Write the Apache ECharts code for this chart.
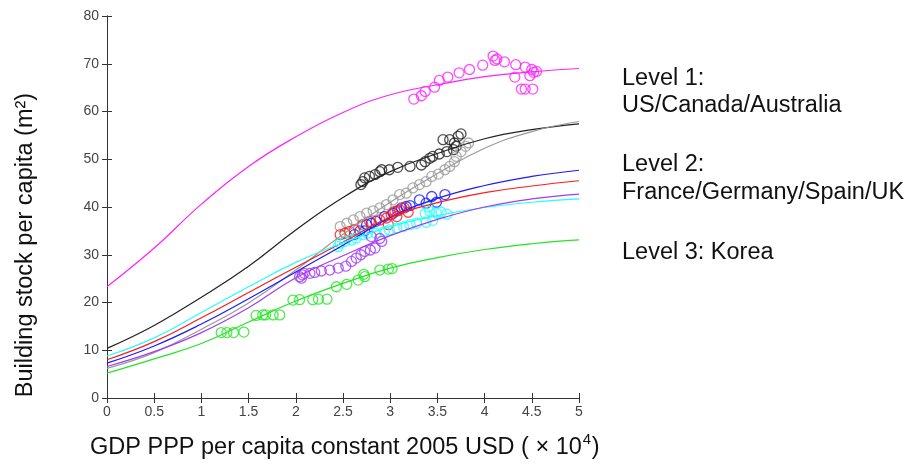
<!DOCTYPE html>
<html>
<head>
<meta charset="utf-8">
<script src="https://cdn.jsdelivr.net/npm/echarts@6/dist/echarts.min.js"></script>
<style>
html,body{margin:0;padding:0;background:#fff;}
#chart{width:907px;height:467px;}
</style>
</head>
<body>
<div id="chart"></div>
<script>
// ---- data ----
const curveX = [0, 0.5, 1, 1.5, 2, 2.5, 3, 3.5, 4, 4.5, 5];
const magentaCurve = [23.3, 31.4, 40.6, 48.5, 54.7, 59.8, 63.5, 65.6, 67.3, 68.3, 69.0];
const blackCurve   = [10.4, 15.2, 21.1, 27.6, 35.2, 42.0, 47.4, 51.2, 54.3, 56.2, 57.4];
const grayCurve    = [6.2, 9.5, 14.4, 19.9, 26.8, 34.3, 41.0, 47.0, 52.3, 55.8, 57.9];
const blueCurve    = [7.3, 10.9, 15.5, 20.8, 26.4, 32.0, 37.8, 41.8, 44.5, 46.4, 47.7];
const redCurve     = [8.0, 11.8, 16.8, 22.1, 27.4, 32.6, 37.9, 40.9, 43.0, 44.4, 45.5];
const cyanCurve    = [8.8, 12.6, 17.9, 23.3, 28.4, 32.5, 35.9, 38.2, 39.9, 41.0, 41.7];
const purpleCurve  = [6.6, 9.7, 13.7, 18.9, 25.2, 29.8, 34.0, 37.4, 40.0, 41.7, 42.7];
const greenCurve   = [5.2, 8.2, 11.4, 15.9, 20.3, 24.0, 27.2, 29.4, 31.1, 32.3, 33.1];

const magentaPts = [[3.25,62.6],[3.33,63.3],[3.37,64.2],[3.47,65.1],[3.52,66.5],[3.61,67.2],[3.73,68.1],[3.84,68.8],[3.98,69.7],[4.09,71.6],[4.11,70.7],[4.13,71.0],[4.21,70.4],[4.33,69.8],[4.32,67.2],[4.43,69.3],[4.50,68.8],[4.52,68.2],[4.55,68.4],[4.48,67.5],[4.39,64.7],[4.43,64.7],[4.51,64.7]];
const blackPts = [[2.69,44.7],[2.71,45.3],[2.73,46.1],[2.78,46.4],[2.84,46.8],[2.89,47.4],[2.91,47.8],[2.99,47.8],[3.08,48.3],[3.21,48.5],[3.33,48.8],[3.37,49.5],[3.42,50.2],[3.45,50.6],[3.52,51.1],[3.60,51.6],[3.67,52.0],[3.70,52.7],[3.56,54.1],[3.63,54.1],[3.68,53.4],[3.72,54.8],[3.75,55.3]];
const grayPts = [[2.47,35.9],[2.54,36.6],[2.61,37.3],[2.68,38.0],[2.75,38.7],[2.82,39.2],[2.89,39.8],[2.96,40.5],[3.03,41.5],[3.10,42.6],[3.17,42.9],[3.24,44.0],[3.31,44.7],[3.38,45.3],[3.44,46.4],[3.51,46.9],[3.58,47.8],[3.63,48.5],[3.68,49.5],[3.70,50.6],[3.75,51.6],[3.80,52.7],[3.83,53.4]];
const bluePts = [[2.62,34.2],[2.68,35.0],[2.73,35.0],[2.75,36.3],[2.80,36.6],[2.85,37.0],[2.94,38.0],[3.03,38.7],[3.08,39.2],[3.12,39.8],[3.17,40.1],[3.21,40.3],[3.31,41.5],[3.38,40.8],[3.44,42.2],[3.49,41.0],[3.58,42.6]];
const redPts = [[2.47,34.2],[2.52,34.5],[2.57,34.9],[2.62,35.2],[2.71,36.3],[2.78,37.0],[2.89,37.3],[2.96,37.7],[2.98,36.3],[3.01,38.4],[3.05,39.1],[3.07,38.0],[3.10,39.4],[3.15,39.8],[3.19,38.9]];
const cyanPts = [[2.45,31.7],[2.47,32.4],[2.52,32.8],[2.59,33.1],[2.64,33.5],[2.71,34.2],[2.76,34.5],[2.85,34.5],[2.94,34.9],[2.99,35.2],[3.07,35.6],[3.14,35.9],[3.21,36.3],[3.28,36.6],[3.37,38.7],[3.40,40.0],[3.42,39.1],[3.45,37.2],[3.38,36.8],[3.49,38.7],[3.54,38.9],[3.60,38.5]];
const purplePts = [[2.04,25.4],[2.06,25.1],[2.07,25.8],[2.09,26.1],[2.15,26.1],[2.20,26.3],[2.27,26.6],[2.36,26.8],[2.45,27.2],[2.53,27.6],[2.59,28.6],[2.64,29.3],[2.69,30.0],[2.73,30.7],[2.79,31.0],[2.84,31.4],[2.80,33.8],[2.89,33.4],[2.91,32.8]];
const greenPts = [[1.21,13.7],[1.27,13.7],[1.34,13.7],[1.45,13.8],[1.58,17.3],[1.65,17.4],[1.68,17.4],[1.76,17.4],[1.83,17.4],[1.97,20.5],[2.04,20.6],[2.18,20.6],[2.24,20.7],[2.33,20.7],[2.43,23.3],[2.54,23.8],[2.66,24.7],[2.72,25.9],[2.73,25.4],[2.89,26.8],[2.98,27.0],[3.02,27.1]];

const xTicks = ['0','0.5','1','1.5','2','2.5','3','3.5','4','4.5','5'];
const yTicks = ['0','10','20','30','40','50','60','70','80'];

const xTitle = 'GDP PPP per capita constant 2005 USD ( \u00d7 10';
const xTitleSup = '4';
const xTitleEnd = ')';
const yTitle = 'Building stock per capita (m\u00b2)';
const sideTexts = ['Level 1:', 'US/Canada/Australia', 'Level 2:', 'France/Germany/Spain/UK', 'Level 3: Korea'];

// ---- chart ----
const FONT = '"Liberation Sans", Arial, sans-serif';
const TITLE_FONT = '23.5px ' + FONT;
const SUP_FONT = '15px ' + FONT;
const colors = {
  magenta: '#ff22ff', black: '#222222', gray: '#9a9a9a', blue: '#1a1aff',
  red: '#ff1a1a', cyan: '#22ffff', purple: '#a23cf0', green: '#22e622'
};
const groups = [
  ['magenta', magentaCurve, magentaPts],
  ['black', blackCurve, blackPts],
  ['gray', grayCurve, grayPts],
  ['blue', blueCurve, bluePts],
  ['red', redCurve, redPts],
  ['cyan', cyanCurve, cyanPts],
  ['purple', purpleCurve, purplePts],
  ['green', greenCurve, greenPts]
];

const series = [];
groups.forEach(function (g) {
  series.push({
    type: 'scatter', name: g[0] + ' data', data: g[2],
    symbol: 'circle', symbolSize: 10,
    itemStyle: { color: 'rgba(255,255,255,0)', borderColor: colors[g[0]], borderWidth: 1.3 },
    z: 2
  });
});
groups.forEach(function (g) {
  series.push({
    type: 'line', name: g[0] + ' fit',
    data: curveX.map(function (x, i) { return [x, g[1][i]]; }),
    smooth: 0.45, showSymbol: false, symbol: 'none',
    lineStyle: { color: colors[g[0]], width: 1.2 },
    z: 3
  });
});

const axisLine = { show: true, lineStyle: { color: '#333', width: 1 } };
const tick = { show: true, inside: true, length: 5, lineStyle: { color: '#333' } };

function mkX(pos, labels) {
  return {
    type: 'value', position: pos, min: 0, max: 5, interval: 0.5,
    axisLine: axisLine, axisTick: tick, splitLine: { show: false },
    axisLabel: labels ? {
      show: true, margin: 7, color: '#444', fontSize: 14, fontFamily: FONT,
      formatter: function (v) { const i = Math.round(v / 0.5); return xTicks[i] !== undefined ? xTicks[i] : ''; }
    } : { show: false }
  };
}
function mkY(pos, labels) {
  return {
    type: 'value', position: pos, min: 0, max: 80, interval: 10,
    axisLine: axisLine, axisTick: tick, splitLine: { show: false },
    axisLabel: labels ? {
      show: true, margin: 8, color: '#444', fontSize: 14, fontFamily: FONT,
      formatter: function (v) { const i = Math.round(v / 10); return yTicks[i] !== undefined ? yTicks[i] : ''; }
    } : { show: false }
  };
}

// measure text widths for the superscript placement
const mctx = document.createElement('canvas').getContext('2d');
function textW(t, f) { mctx.font = f; return mctx.measureText(t).width; }
const xTitleLeft = 90;
const mainW = textW(xTitle, TITLE_FONT);
const supW = textW(xTitleSup, SUP_FONT);

const graphics = [
  { type: 'text', x: xTitleLeft, y: 448, style: { text: xTitle, font: TITLE_FONT, fill: '#111', textAlign: 'left', textVerticalAlign: 'middle' } },
  { type: 'text', x: xTitleLeft + mainW + 1, y: 440, style: { text: xTitleSup, font: SUP_FONT, fill: '#111', textAlign: 'left', textVerticalAlign: 'middle' } },
  { type: 'text', x: xTitleLeft + mainW + supW + 1.5, y: 448, style: { text: xTitleEnd, font: TITLE_FONT, fill: '#111', textAlign: 'left', textVerticalAlign: 'middle' } },
  { type: 'text', x: 26, y: 245, rotation: Math.PI / 2, style: { text: yTitle, font: TITLE_FONT, fill: '#111', textAlign: 'center', textVerticalAlign: 'middle' } }
];
const sideY = [79, 106, 165, 193, 253];
sideTexts.forEach(function (t, i) {
  graphics.push({ type: 'text', x: 622, y: sideY[i], style: { text: t, font: TITLE_FONT, fill: '#111', textAlign: 'left', textVerticalAlign: 'middle' } });
});

const chart = echarts.init(document.getElementById('chart'), null, { renderer: 'canvas' });
chart.setOption({
  animation: false,
  backgroundColor: '#fff',
  grid: { left: 107, right: 328, top: 16, bottom: 69, containLabel: false },
  xAxis: [mkX('bottom', true), mkX('top', false)],
  yAxis: [mkY('left', true), mkY('right', false)],
  series: series,
  graphic: graphics
});
</script>
</body>
</html>
